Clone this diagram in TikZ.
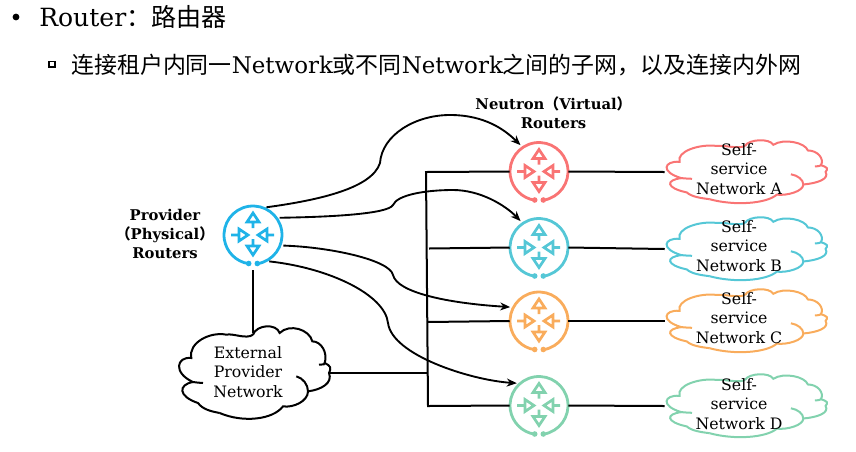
\documentclass[tikz,border=0pt]{standalone}
\usepackage{fontspec}
\setmainfont{DejaVu Serif}
\newfontfamily\cjk{Noto Sans CJK SC}
\usetikzlibrary{arrows.meta}
\definecolor{cprov}{HTML}{1FB3E8}
\definecolor{cred}{HTML}{F97474}
\definecolor{cteal}{HTML}{55C7D6}
\definecolor{corange}{HTML}{F9AC5C}
\definecolor{cgreen}{HTML}{82D2AE}
\tikzset{
  conn/.style={black,line width=1.5pt},
  curve/.style={black,line width=1.4pt,shorten >=2.25pt,shorten <=2.25pt,-{Stealth[length=7.5pt,width=6pt]}},
  anchorbox/.style={minimum size=43.5pt,inner sep=0pt,shape=circle},
  label/.style={align=center,font=\fontsize{11.8pt}{14.5pt}\selectfont,inner sep=0pt},
  blabel/.style={align=center,font=\fontsize{11.1pt}{14.2pt}\selectfont\bfseries,inner sep=0pt},
  cnode/.style={minimum width=114pt,minimum height=60pt,inner sep=0pt},
  snode/.style={minimum width=120pt,minimum height=46pt,inner sep=0pt},
}
\newcommand{\routerat}[4]{% name, x, y, colour
  \node[anchorbox] (#1) at (#2,#3) {};
  \begin{scope}[shift={(#2,#3)},draw=#4,line width=2.1pt]
    \draw (81:29) arc[start angle=81,end angle=-261,radius=29];
    \fill[#4] (-4.3,28.5) circle (2.8) (4.3,28.5) circle (2.8);
    \begin{scope}[line width=2pt,line join=miter]
      % top and bottom point outward
      \draw (0,-7) -- (0,-14) (-6,-13) -- (6,-13) -- (0,-22) -- cycle;
      \draw (0,4) -- (0,11) (-6,11) -- (6,11) -- (0,20) -- cycle;
      % left and right point inward
      \draw (-22,0) -- (-14,0) (-14,-6) -- (-14,6) -- (-5,0) -- cycle;
      \draw (21,0) -- (14,0) (14,-6) -- (14,6) -- (5,0) -- cycle;
    \end{scope}
  \end{scope}
}
\newcommand{\cloudat}[7]{% name,x,y,xs,ys,colour,text
  \begin{scope}[shift={(#2,#3)},x=#4,y=#5,draw=#6,line width=1.5pt]
    \draw (0,-115) .. controls (10,-145) and (70,-150) .. (80,-120)
      .. controls (110,-150) and (170,-130) .. (178,-95)
      .. controls (205,-95) and (225,-60) .. (215,-30)
      .. controls (235,-20) and (235,-15) .. (228,0)
      .. controls (240,30) and (205,50) .. (165,55)
      .. controls (165,85) and (120,105) .. (90,100)
      .. controls (60,140) and (-30,150) .. (-100,120);
    \draw (0,-115) .. controls (-20,-100) and (-60,-120) .. (-80,-115)
      .. controls (-130,-125) and (-195,-90) .. (-185,-45)
      .. controls (-230,-50) and (-240,0) .. (-180,27)
      .. controls (-225,35) and (-225,70) .. (-165,90)
      .. controls (-150,110) and (-125,115) .. (-100,120);
    \draw (130,10) .. controls (150,15) and (165,35) .. (165,55);
    \draw (215,-30) .. controls (212,-20) and (205,-30) .. (198,-25);
    \draw (-180,27) .. controls (-170,28) and (-160,30) .. (-150,30);
  \end{scope}
  \node[#7] (#1) at (#2,#3) {};
}
\begin{document}
\begin{tikzpicture}[x=0.75pt,y=-0.75pt]
\useasboundingbox (0,0) rectangle (856,451);
% header
\fill (16,17) circle (3.4);
\node[anchor=west,inner sep=0pt,font=\fontsize{18.8pt}{20pt}\selectfont] (h1) at (39,17) {Router{\cjk ：路由器}};
\draw[line width=1pt] (49,61.5) rectangle (55,67);
\node[anchor=west,inner sep=0pt,font=\fontsize{17.2pt}{18pt}\selectfont] (h2) at (71,65) {{\cjk 连接租户内同一}Network{\cjk 或不同}Network{\cjk 之间的子网，以及连接内外网}};
% labels
\node[blabel] (lp) at (165,234) {Provider\\{\cjk （}Physical{\cjk ）}\\Routers};
\node[blabel] (ln) at (553.5,113) {Neutron{\cjk （}Virtual{\cjk ）}\\Routers};
% routers
\routerat{prov}{253}{235}{cprov}
\routerat{ra}{539}{171.5}{cred}
\routerat{rb}{539}{247.5}{cteal}
\routerat{rc}{539}{321}{corange}
\routerat{rd}{539}{405.5}{cgreen}
% clouds
\cloudat{ext}{253}{373}{0.25pt}{-0.25pt}{black}{cnode}
\cloudat{ca}{745}{172}{0.265pt}{-0.17pt}{cred}{snode}
\cloudat{cb}{745}{249}{0.265pt}{-0.17pt}{cteal}{snode}
\cloudat{cc}{745}{321}{0.265pt}{-0.17pt}{corange}{snode}
\cloudat{cd}{745}{406}{0.265pt}{-0.17pt}{cgreen}{snode}
\node[label] (te) at (248,372) {External\\Provider\\Network};
\node[label] (ta) at (739,169) {Self-\\service\\Network A};
\node[label] (tb) at (739,246) {Self-\\service\\Network B};
\node[label] (tc) at (739,318) {Self-\\service\\Network C};
\node[label] (td) at (739,404) {Self-\\service\\Network D};
% bus
\coordinate (bt) at (426,172);
\coordinate (bb) at (428,406);
\coordinate (bx) at (427,373);
\coordinate (bbb) at (429,248.5);
\coordinate (bc) at (427,322);
\draw[conn,line join=miter] (ra.west) -- (bt) -- (bb) -- (rd.west);
\draw[conn] (bbb) -- (rb.west);
\draw[conn] (bc) -- (rc.west);
\draw[conn] (ext.east) -- (bx);
\draw[conn] (ra.east) -- (ca.west);
\draw[conn] (rb.east) -- (cb.west);
\draw[conn] (rc.east) -- (cc.west);
\draw[conn] (rd.east) -- (cd.west);
\draw[conn,shorten <=4.5pt] (prov.south) -- (ext.north);
% curves
\draw[curve] (prov.69) .. controls (320,200) and (372,188) .. (380,163) .. controls (382,135) and (415,115) .. (450,115) .. controls (485,115) and (505,130) .. (ra.124);
\draw[curve] (prov.36) .. controls (330,217) and (388,214) .. (393,205) .. controls (397,195) and (425,190) .. (453,190) .. controls (480,190) and (505,205) .. (rb.124);
\draw[curve] (prov.-21) .. controls (330,247) and (390,260) .. (393,275) .. controls (397,292) and (445,303) .. (rc.152);
\draw[curve] (prov.-63) .. controls (330,268) and (385,295) .. (388,323) .. controls (392,355) and (470,380) .. (rd.131);
\end{tikzpicture}
\end{document}
